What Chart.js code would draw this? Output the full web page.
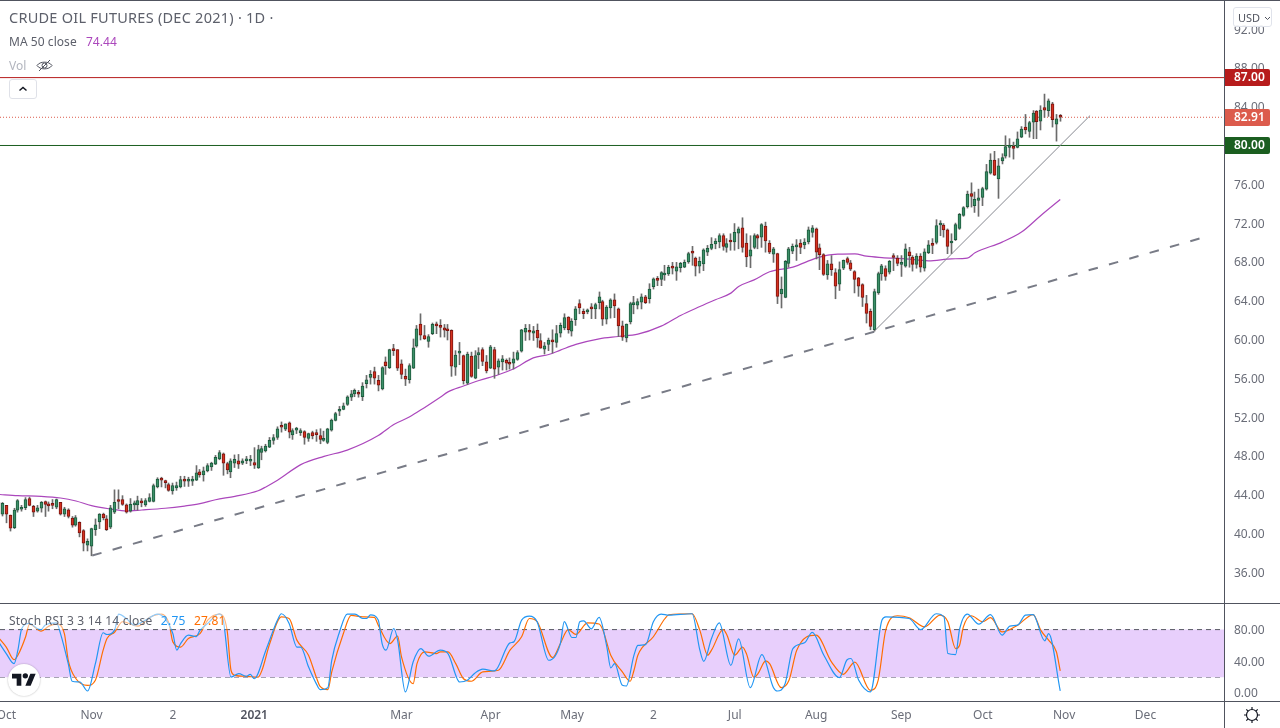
<!DOCTYPE html>
<html>
<head>
<meta charset="utf-8">
<title>Crude Oil Futures (Dec 2021)</title>
<script src="https://cdn.jsdelivr.net/npm/chart.js@4/dist/chart.umd.min.js"></script>
<style>
    html, body { margin: 0; padding: 0; background: #fff; overflow: hidden; }
    body { width: 1280px; height: 728px; position: relative; font-family: "Noto Sans", sans-serif; }
    canvas { position: absolute; left: 0; display: block; }
    #priceCanvas { top: 0; }
    #stochCanvas { top: 604px; }
    .rule { position: absolute; background: #50535e; z-index: 3; }
    .legend { position: absolute; left: 9px; color: #5d606b; z-index: 4; white-space: nowrap; }
    .legend span { margin-left: 5px; }
    #title { top: 7px; font-size: 14.5px; letter-spacing: .25px; }
    #maLegend { top: 33px; font-size: 12px; letter-spacing: .05px; }
    #maLegend span { color: #ab47bc; margin-left: 6px; }
    #volLegend { top: 57px; font-size: 12px; color: #b2b5be; }
    #stochLegend { top: 612px; font-size: 12px; letter-spacing: .22px; background: rgba(255, 255, 255, .5); padding-right: 2px; }
    #collapse { position: absolute; left: 9px; top: 79px; width: 26px; height: 18px; border: 1px solid #dfe1e8; border-radius: 3px; background: #fff; z-index: 4; }
    #usd { position: absolute; left: 1233px; top: 7px; width: 33px; height: 18px; border: 1px solid #e0e3eb; border-radius: 3px; background: rgba(255, 255, 255, .9); z-index: 4; color: #50535e; font-size: 11px; line-height: 19px; padding-left: 4px; white-space: nowrap; }
    #logo { position: absolute; left: 8px; top: 664px; width: 32px; height: 32px; border-radius: 50%; background: #fff; box-shadow: 0 0 2px rgba(0, 0, 0, .3); z-index: 4; }
    #gear { position: absolute; left: 1243px; top: 706px; z-index: 4; }
</style>
</head>
<body>
<canvas id="priceCanvas" width="1280" height="604"></canvas>
<canvas id="stochCanvas" width="1280" height="124"></canvas>

<div class="rule" style="left:0;top:0;width:1280px;height:1px"></div>
<div class="rule" style="left:0;top:603px;width:1280px;height:1px"></div>
<div class="rule" style="left:0;top:701px;width:1280px;height:1px"></div>
<div class="rule" style="left:1224px;top:0;width:1px;height:728px"></div>

<div class="legend" id="title">CRUDE OIL FUTURES (DEC 2021) · 1D ·</div>
<div class="legend" id="maLegend">MA 50 close <span>74.44</span></div>
<div class="legend" id="volLegend">Vol
    <svg width="17" height="13" viewBox="0 0 17 13" style="margin-left:7px;vertical-align:-2px" fill="none" stroke="#50535e" stroke-width="1">
        <path d="M1 6.500C4 2 13 2 16 6.500C13 11 4 11 1 6.500Z"/><circle cx="8.5" cy="6.5" r="2.5"/><path d="M3 12L14 1"/>
    </svg>
</div>
<div class="legend" id="stochLegend">Stoch RSI 3 3 14 14 close <span style="color:#2196f3">2.75</span> <span style="color:#ff6d00">27.81</span></div>
<div id="collapse">
    <svg width="26" height="18" viewBox="0 0 26 18" fill="none" stroke="#131722" stroke-width="1.5"><path d="M9.5 10.500L13 7.500L16.5 10.500"/></svg>
</div>
<div id="usd">USD<svg width="7" height="5" viewBox="0 0 7 5" style="margin-left:4px;vertical-align:1px" fill="none" stroke="#50535e"><path d="M1 1L3.5 3.500L6 1"/></svg></div>
<div id="logo">
    <svg width="24" height="19" viewBox="0 0 36 28" style="position:absolute;left:4px;top:7px" fill="#131722">
        <path d="M14 22H7V11H0V4h14v18zM28 22h-8l7.500-18h8L28 22z"/><circle cx="20" cy="7" r="4"/>
    </svg>
</div>
<svg id="gear" width="18" height="18" viewBox="0 0 18 18" fill="none" stroke="#131722" stroke-width="1.2">
    <circle cx="9" cy="9" r="5.5"/>
    <path d="M9 1v2.500M9 14.500V17M1 9h2.500M14.500 9H17M3.300 3.300l1.800 1.800M12.900 12.900l1.800 1.800M3.300 14.700l1.800-1.800M12.900 5.100l1.800-1.800"/>
</svg>

<script>
// daily bars
const barOpen = [
    43.2,42.0,42.9,41.9,40.6,42.4,42.5,42.65,43.6,42.8,
    42.3,42.6,43.3,42.95,43.0,42.7,43.2,42.0,42.45,41.6,
    40.85,41.15,40.3,38.8,38.7,40.4,41.2,42.0,41.5,40.65,
    42.2,43.5,43.5,42.95,42.3,42.95,42.95,43.2,42.95,43.3,
    43.3,44.8,45.7,45.3,45.05,44.4,44.7,44.8,45.55,45.4,
    45.4,45.5,46.35,46.05,46.45,46.85,47.15,47.7,48.2,47.2,
    46.35,47.25,47.5,47.25,47.5,47.45,47.3,46.75,48.35,48.5,
    48.9,49.6,49.9,
    51.0,50.75,51.4,50.15,50.65,50.4,50.5,49.8,50.4,50.3,
    50.1,49.6,49.4,50.65,51.65,52.6,52.8,53.3,54.05,54.4,
    54.5,54.1,55.45,56.1,56.7,55.8,54.9,57.7,57.1,59.05,
    58.95,57.5,56.2,55.85,57.05,59.3,61.6,60.4,59.8,60.6,
    61.55,61.45,61.2,61.0,60.95,57.15,58.6,58.35,55.5,58.3,
    56.0,58.4,58.95,57.7,57.05,58.95,57.15,57.7,57.85,57.65,
    57.55,57.95,58.8,60.75,60.9,60.65,60.95,59.9,59.0,59.5,
    59.85,59.7,
    60.65,61.2,62.3,60.85,62.05,63.7,62.9,62.85,63.25,63.15,
    63.8,63.9,62.1,63.25,64.1,63.15,61.4,60.15,61.8,63.6,
    63.55,63.85,64.4,64.2,65.45,66.15,66.2,66.65,66.75,67.4,
    67.05,67.4,67.45,68.0,69.05,68.4,67.55,67.8,69.0,69.4,
    69.85,70.05,70.7,69.5,70.2,70.05,70.95,71.5,69.95,68.6,
    69.5,70.7,70.55,71.7,69.95,68.8,68.85,64.7,64.35,67.85,
    69.1,69.55,69.95,69.75,70.05,71.05,71.4,69.45,68.75,66.65,
    67.8,66.9,65.7,
    67.35,68.35,67.9,67.0,66.35,65.65,63.7,62.9,61.0,64.8,
    66.75,67.3,66.95,68.55,68.4,67.75,67.55,69.05,68.5,67.75,
    68.6,67.35,68.95,69.85,70.0,71.8,71.8,71.3,69.95,70.3,
    71.45,72.8,73.7,75.05,73.8,74.35,74.65,75.5,77.15,78.5,
    76.55,78.4,78.9,79.8,79.8,79.8,80.85,81.9,81.45,82.4,
    83.55,82.5,83.9,83.6,84.3,82.2,83.05
];
const barHigh = [
    43.2,43.2,42.9,41.9,42.6,43.5,42.9,43.7,43.75,42.9,
    42.9,43.3,43.35,43.25,43.5,43.55,43.2,42.7,42.55,41.75,
    41.85,41.2,40.4,39.45,40.55,41.5,42.05,42.1,41.85,42.9,
    44.5,44.5,43.9,43.05,43.6,43.35,43.85,43.6,43.6,44.1,
    45.1,45.75,45.8,45.5,45.2,45.2,45.3,45.9,45.9,45.8,
    45.9,47.0,46.6,46.85,47.2,47.35,48.05,48.55,48.3,47.35,
    47.7,48.1,48.15,47.7,47.95,48.05,48.85,49.1,49.0,49.2,
    49.9,50.2,51.0,
    51.5,51.3,51.5,50.8,50.95,50.8,50.6,50.35,50.55,50.7,
    50.8,50.55,50.85,51.8,52.5,53.1,53.45,54.2,54.75,54.9,
    54.75,55.55,56.3,56.8,57.15,56.3,57.2,58.2,59.0,59.5,
    58.95,57.9,56.95,57.5,60.05,61.45,62.65,61.45,60.5,61.7,
    61.8,62.05,61.55,61.55,61.0,58.85,59.7,58.4,58.7,58.7,
    58.85,59.15,59.15,58.35,59.4,59.2,58.0,58.35,58.0,58.1,
    58.7,58.85,61.05,61.55,61.55,61.35,61.6,60.6,59.7,60.15,
    61.0,61.45,
    61.7,62.65,62.35,62.15,63.4,64.1,63.15,63.15,63.7,63.75,
    64.9,64.05,63.5,64.2,64.7,63.25,61.9,61.6,63.85,64.45,
    64.2,64.7,64.55,65.75,66.35,66.5,67.0,67.65,67.65,67.95,
    67.95,67.95,68.2,69.0,69.6,68.5,68.5,69.35,69.7,70.5,
    70.4,70.9,70.9,70.4,70.9,71.95,71.6,72.55,70.9,70.7,
    70.9,70.85,71.95,72.1,70.2,69.5,68.9,66.45,68.15,69.5,
    69.85,70.3,70.3,70.4,71.6,71.75,71.5,69.85,68.85,68.15,
    68.65,67.3,68.0,
    68.2,68.5,68.15,67.1,66.4,65.75,64.55,63.15,65.2,66.95,
    67.75,67.6,68.15,68.85,68.65,68.65,69.85,69.5,68.65,68.85,
    68.85,69.35,70.2,70.4,72.35,72.25,71.95,71.4,70.9,72.0,
    73.0,73.7,75.3,76.15,75.2,75.5,75.7,78.05,79.15,79.4,
    78.65,79.15,81.0,80.7,80.35,81.4,81.95,83.2,82.5,83.6,
    83.6,84.1,85.3,84.8,84.45,83.2,83.2
];
const barLow = [
    41.9,41.8,41.1,40.25,40.5,42.2,42.3,42.45,42.85,41.75,
    42.2,42.2,41.75,42.3,42.55,42.55,41.9,41.75,41.6,40.65,
    40.75,39.65,38.2,38.2,37.7,39.8,40.5,41.4,40.3,40.5,
    42.05,42.55,42.9,42.1,42.2,42.45,42.4,42.75,42.8,43.25,
    43.25,44.7,44.8,44.7,44.35,44.05,44.45,44.7,44.85,44.85,
    44.95,45.45,45.8,45.4,46.35,46.5,47.1,47.6,46.0,46.15,
    45.75,46.8,46.7,47.1,47.2,47.0,46.7,46.7,47.6,48.4,
    48.85,49.2,49.7,
    50.45,50.6,49.85,49.7,50.3,50.1,49.2,49.5,49.75,49.5,
    49.25,49.5,49.25,50.55,51.6,52.15,52.75,53.2,53.7,54.1,
    54.05,53.7,55.0,55.4,55.4,54.7,54.8,56.4,57.0,58.35,
    56.8,55.95,55.25,55.5,57.0,59.2,59.95,60.0,59.2,60.5,
    60.6,60.25,60.25,59.95,56.2,56.3,57.4,55.4,55.35,56.1,
    55.95,57.0,57.3,56.55,57.0,56.0,56.4,56.85,56.85,56.95,
    56.95,57.85,58.7,59.9,59.95,59.9,59.2,59.1,58.5,58.85,
    58.6,59.2,
    60.25,61.0,60.65,60.35,61.45,62.65,62.15,62.65,62.15,62.15,
    63.15,61.45,61.6,62.2,62.25,60.3,59.9,59.75,61.6,62.65,
    63.15,63.15,63.7,63.75,65.2,65.55,65.55,66.1,66.6,66.75,
    66.1,66.95,67.4,67.85,67.65,66.55,66.85,67.1,68.65,69.25,
    69.35,69.45,69.2,69.0,69.2,69.2,69.35,69.0,67.5,67.4,
    69.35,69.35,69.5,69.0,68.85,67.95,63.7,63.25,64.3,67.45,
    68.85,68.15,68.85,69.35,69.85,70.55,68.3,67.2,66.6,66.2,
    66.6,64.2,65.05,
    67.2,67.75,67.1,64.8,64.45,63.4,61.7,61.0,60.85,64.65,
    66.1,66.1,66.75,67.1,67.6,66.5,67.45,67.45,67.05,67.35,
    66.95,67.05,68.85,68.85,69.85,70.7,70.55,68.85,68.85,70.2,
    71.35,72.7,73.55,73.65,73.1,72.7,73.8,75.4,77.05,76.9,
    74.55,78.1,78.7,78.8,78.6,79.75,80.8,81.2,80.85,80.7,
    80.7,81.6,82.9,83.0,81.9,80.45,82.5
];
const barClose = [
    42.0,43.1,42.0,40.55,42.4,43.4,42.65,43.5,42.9,42.2,
    42.65,43.2,43.0,42.85,42.9,43.5,42.0,42.55,41.75,40.85,
    41.65,40.05,39.0,39.2,40.5,40.9,42.0,41.6,40.4,42.65,
    43.2,43.3,43.0,42.2,43.0,43.1,43.4,43.15,43.4,43.7,
    44.95,45.6,45.5,45.25,44.45,44.95,44.95,45.55,45.4,45.55,
    45.45,46.25,46.05,46.45,47.0,47.25,47.85,48.35,47.25,46.55,
    47.5,47.65,47.15,47.5,47.6,47.55,47.05,48.65,48.75,49.0,
    49.6,49.9,50.8,
    50.95,51.3,50.45,50.6,50.7,50.6,49.9,50.3,50.05,50.2,
    49.7,49.65,50.8,51.7,52.35,52.8,53.15,54.1,54.4,54.75,
    54.35,55.2,55.85,56.4,56.0,55.3,57.1,57.3,58.95,58.85,
    57.05,56.4,55.9,57.3,59.15,61.1,60.45,60.05,60.3,61.55,
    61.4,61.25,60.95,60.9,57.25,58.4,58.65,55.75,58.5,56.2,
    58.35,58.65,57.75,56.75,59.25,56.95,57.8,58.0,57.55,57.45,
    58.0,58.65,61.0,61.15,60.75,60.9,60.15,59.1,59.35,59.95,
    59.75,60.6,
    61.45,62.25,61.0,61.9,63.15,63.25,62.65,62.9,63.15,63.6,
    64.4,62.1,63.35,64.1,63.45,61.4,60.25,61.6,63.7,63.7,
    63.9,64.4,63.8,65.2,66.25,66.1,66.9,66.7,67.45,67.35,
    67.5,67.85,67.95,68.85,68.9,67.55,68.05,69.25,69.4,69.8,
    70.15,70.7,69.6,69.9,70.05,71.05,71.4,69.5,68.5,69.25,
    70.7,70.45,71.85,70.15,69.0,69.35,64.45,65.2,68.05,69.35,
    69.6,69.7,69.5,70.05,71.3,71.5,69.0,68.75,66.7,67.8,
    67.2,65.5,67.2,
    68.15,67.95,67.25,66.2,65.5,64.35,62.7,61.35,64.95,66.8,
    67.6,66.5,68.05,68.45,67.85,67.9,69.35,68.65,67.75,68.6,
    67.45,69.05,69.75,69.7,71.75,71.85,71.3,69.6,70.1,71.85,
    72.9,73.6,75.0,74.75,74.45,74.6,75.55,77.3,78.5,76.95,
    77.9,78.75,79.9,79.95,79.7,80.7,81.7,81.6,82.35,83.35,
    82.45,83.65,83.65,84.6,82.65,82.75,82.91
];

// MA 50, sampled along the curve
const maBars = [0,5,11,16,20,24,29,33,37,43,48,52,56,61,67,69,72,78,84,90,98,102,106,110,114,116,120,124,129,133,138,142,145,149,155,160,165,171,176,181,185,189,191,195,199,205,211,214,217,221,224,228,234,240,246,250,252,259,264,269,274];
const maValues = [44.03,43.9,43.83,43.66,43.35,42.87,42.52,42.32,42.42,42.6,42.83,43.07,43.48,43.83,44.41,44.8,45.48,47.1,47.95,48.6,50.1,51.24,52.0,53.0,54.05,54.6,55.2,55.77,56.36,56.98,58.1,58.45,58.9,59.49,60.07,60.31,60.55,61.38,62.48,63.4,64.1,64.78,65.47,66.15,66.98,67.46,68.39,68.7,68.8,68.83,68.59,68.45,68.32,68.11,68.32,68.39,68.94,70.04,71.07,72.79,74.44];

// stoch RSI %K and %D
const kBars = [0,2,4,5,6,8,10,11,12,15,16,18,19,21,23,25,27,28,30,31,33,35,38,41,43,45,46,47,49,51,52,54,57,58,60,62,64,65,66,69,72,73,75,77,78,80,82,83,85,86,88,90,92,94,95,96,98,99,100,102,103,105,107,109,111,114,116,119,121,123,125,128,132,133,135,137,139,142,145,146,148,149,150,151,153,155,157,158,159,161,162,164,165,167,169,171,173,179,181,182,184,186,189,191,194,197,200,201,203,205,208,210,213,217,219,220,222,225,228,229,235,238,242,244,245,247,248,250,253,256,259,261,263,265,267,270,271,274];
const kValues = [64.5,49.8,37.1,54,81.4,87.8,81.4,80,85.6,88.6,75,37,14.8,13.9,2.5,37,76,73.8,80,99.6,94,85.6,92,99.6,94,75,54,62.4,73,71,79,87.8,100,92,20,24.5,21,23.6,18,54,92,100,87.8,58,58,33,11.8,4.2,6.7,41.3,77,99.6,99.6,94,94,98.7,92,62.4,54,81.4,66.7,1.3,39.2,56,46.4,54,49.8,13.9,16,25.3,30,27.8,63.3,64.5,92,97,90,41.3,62.4,90,70,70,90,91,81,95.4,58,31.6,37,9.7,8.8,47.7,60,61,90,99.6,98.3,100,54,40,68.8,88.6,35,68.3,6.7,48.5,6.7,2.5,11.8,56,63.3,76.4,47.7,19.4,42,43.5,16,1.3,92,96,94,80,100,96,49.8,48.5,80,99.6,87,99,73,84.4,85.6,98.3,99,65.8,75,2.75];
const dBars = [0,2,4,5,7,8,11,13,15,17,18,20,23,25,27,28,30,32,36,39,42,44,45,47,49,52,54,57,59,60,61,64,67,68,70,73,75,77,80,82,83,85,86,89,91,94,97,98,101,103,104,107,108,110,113,114,116,118,120,122,125,129,132,135,137,139,143,145,147,149,152,155,156,158,161,163,164,165,169,172,173,179,181,183,184,187,188,190,192,193,195,196,198,199,202,204,206,211,215,218,221,225,227,229,232,235,239,243,245,247,248,249,251,254,256,259,263,267,269,271,273,274];
const dValues = [70,58,42,47.7,71,87,78,84.4,87,75,41.3,18,9.7,16,54,68.8,77,89.9,84.4,95.4,99.6,87.8,64.5,58,68.8,75,92,99.6,79,28.7,22.3,21,20,28.7,62.4,96,94,66.7,47.7,20,8.4,4.2,26.6,75,98,96,95.4,85.6,62.4,71.7,45.6,11.8,37,51.9,49.8,51.9,51.9,37,18,14.8,26.6,28.7,54,71,94,90,44.7,62.4,80,74,88.6,87,79,47.7,26.6,14.8,28.7,47.7,71,94,98.7,100,79,47.7,54,80,73,47.7,58,49.8,19.4,24.5,40.5,37,6.7,16,54,73,39,23.6,39,3.4,16,80,97.5,95,83.5,98.3,90,56,60,83.5,97.5,90,95,77,85.6,99,79,66.7,52,27.81];

// drawn levels and trend lines
const levelValues = [87, 80];
const levelColors = ["#b71c1c", "#1b5e20"];
const lastPrice = 82.91;
const thinTrendBars = [226.2, 281.7];
const thinTrendValues = [60.93, 83.09];
const dashTrendBars = [24.2, 310];
const dashTrendValues = [37.73, 70.41];

// axes
const priceTicks = [36,40,44,48,52,56,60,64,68,72,76,80,84,88,92];
const stochTicks = [0,40,80];
const stochBand = [80,20];
const tickBars = [2,24,45,66,104,127,148,169,190,211,233,254,275,296];
const tickLabels = ["Oct","Nov","2","2021","Mar","Apr","May","2","Jul","Aug","Sep","Oct","Nov","Dec"];

const FIRST_BAR = 0.387;
const LAST_BAR = 316.26;
const FONT = '"Noto Sans", sans-serif';
const TICK_COLOR = "#6a6d78";

Chart.defaults.font.family = FONT;
Chart.defaults.animation = false;

const zipPoints = (xs, ys) => xs.map((x, i) => ({ x: x, y: ys[i] }));
const spanLine = v => [{ x: FIRST_BAR, y: v }, { x: LAST_BAR, y: v }];

// candles come out sharper when every bar sits on a whole pixel
const snapBars = {
    id: "snapBars",
    afterDatasetsUpdate(chart) {
        chart.getSortedVisibleDatasetMetas().forEach(meta => {
            if (meta.type !== "bar") return;
            meta.data.forEach(bar => { bar.x = Math.floor(bar.x) + 0.5; });
        });
    }
};

const priceTags = {
    id: "priceTags",
    afterDraw(chart) {
        const ctx = chart.ctx;
        const y = chart.scales.y;
        const tags = [
            { v: levelValues[0], color: levelColors[0] },
            { v: lastPrice, color: "#dc5b4c" },
            { v: levelValues[1], color: levelColors[1] }
        ];
        ctx.save();
        ctx.font = "600 12px " + FONT;
        ctx.textBaseline = "middle";
        tags.forEach(t => {
            const py = Math.floor(y.getPixelForValue(t.v)) + 0.5;
            ctx.fillStyle = t.color;
            ctx.beginPath();
            ctx.roundRect(1225, py - 8.5, 45, 17, [0, 2, 2, 0]);
            ctx.fill();
            ctx.fillStyle = "#fff";
            ctx.fillText(t.v.toFixed(2), 1234, py + 0.5);
        });
        ctx.restore();
    }
};

function valueAxis(min, max, ticks) {
    return {
        position: "right",
        min: min,
        max: max,
        grid: { display: false, drawTicks: false },
        border: { display: false },
        afterBuildTicks: scale => { scale.ticks = ticks.map(v => ({ value: v })); },
        afterFit: scale => {
            scale.width = 56;
            scale.paddingTop = 0;
            scale.paddingBottom = 0;
        },
        ticks: {
            padding: 10,
            labelOffset: 1,
            autoSkip: false,
            color: TICK_COLOR,
            font: { size: 12 },
            callback: v => v.toFixed(2)
        }
    };
}

function lineSet(data, color, width, order, dash) {
    return {
        type: "line",
        data: data,
        borderColor: color,
        borderWidth: width,
        borderDash: dash || [],
        pointRadius: 0,
        fill: false,
        order: order
    };
}

function curveSet(data, color, width, order) {
    return Object.assign(lineSet(data, color, width, order), { cubicInterpolationMode: "monotone" });
}

function createPriceChart() {
    const isUp = barClose.map((c, i) => c >= barOpen[i]);
    const wicks = barHigh.map((h, i) => ({ x: i, y: [barLow[i], h] }));
    const bodies = barOpen.map((o, i) => ({ x: i, y: [o, barClose[i]] }));

    new Chart(document.getElementById("priceCanvas"), {
        type: "bar",
        plugins: [snapBars, priceTags],
        data: {
            datasets: [
                lineSet(spanLine(levelValues[0]), levelColors[0], 1, 9),
                lineSet(spanLine(levelValues[1]), levelColors[1], 1, 9),
                lineSet(spanLine(lastPrice), "#dc5b4c", 1, 8, [1, 2]),
                curveSet(zipPoints(maBars, maValues), "#ab47bc", 1.2, 7),
                {
                    data: wicks,
                    backgroundColor: "#6b6b6b",
                    barThickness: 1,
                    grouped: false,
                    order: 6
                },
                {
                    data: bodies,
                    backgroundColor: isUp.map(u => u ? "#3c8f68" : "#d5321f"),
                    borderColor: isUp.map(u => u ? "#1c5a3c" : "#7b1410"),
                    borderWidth: 1,
                    borderSkipped: false,
                    barThickness: 3,
                    minBarLength: 2,
                    grouped: false,
                    order: 5
                },
                lineSet(zipPoints(thinTrendBars, thinTrendValues), "#85878f", 1, 2),
                lineSet(zipPoints(dashTrendBars, dashTrendValues), "#787b86", 2, 1, [9.6, 11.55])
            ]
        },
        options: {
            responsive: false,
            events: [],
            layout: { padding: 0 },
            plugins: { legend: { display: false }, tooltip: { enabled: false } },
            scales: {
                x: { type: "linear", min: FIRST_BAR, max: LAST_BAR, offset: false, display: false },
                y: valueAxis(32.73, 95.0, priceTicks)
            }
        }
    });
}

function createStochChart() {
    new Chart(document.getElementById("stochCanvas"), {
        type: "line",
        plugins: [],
        data: {
            datasets: [
                Object.assign(lineSet(spanLine(stochBand[0]), "#555862", 1, 9, [5, 4]), {
                    fill: "+1",
                    backgroundColor: "#e8cffc"
                }),
                lineSet(spanLine(stochBand[1]), "#555862", 1, 9, [5, 4]),
                curveSet(zipPoints(dBars, dValues), "#ff6d00", 1.2, 2),
                curveSet(zipPoints(kBars, kValues), "#2196f3", 1.2, 1)
            ]
        },
        options: {
            responsive: false,
            events: [],
            layout: { padding: 0 },
            plugins: { legend: { display: false }, tooltip: { enabled: false } },
            scales: {
                x: {
                    type: "linear",
                    min: FIRST_BAR,
                    max: LAST_BAR,
                    offset: false,
                    grid: { display: false, drawTicks: false },
                    border: { display: false },
                    afterBuildTicks: scale => { scale.ticks = tickBars.map(v => ({ value: v })); },
                    afterFit: scale => {
                        scale.height = 27;
                        scale.paddingLeft = 0;
                        scale.paddingRight = 0;
                    },
                    ticks: {
                        padding: 7,
                        autoSkip: false,
                        maxRotation: 0,
                        color: c => tickLabels[c.index] === "2021" ? "#50535e" : TICK_COLOR,
                        font: c => ({ size: 12, weight: tickLabels[c.index] === "2021" ? "600" : "400" }),
                        callback: (v, i) => tickLabels[i]
                    }
                },
                y: valueAxis(-10.1, 112.3, stochTicks)
            }
        }
    });
}

createPriceChart();
createStochChart();
</script>
</body>
</html>
